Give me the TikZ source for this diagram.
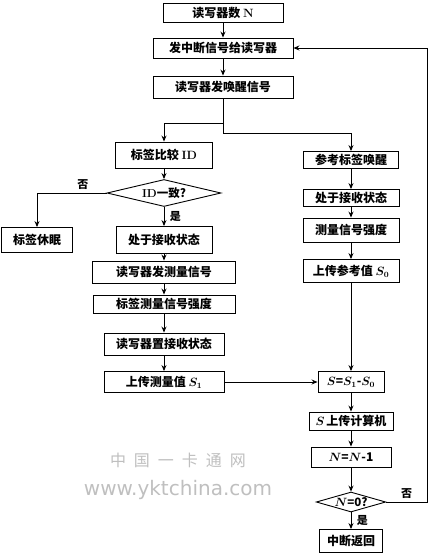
\documentclass[tikz,border=0pt]{standalone}
\usepackage{amsmath}
\usepackage{fontspec}
\usepackage{tikz}
\usetikzlibrary{arrows.meta, positioning, shapes.geometric}
\newfontfamily\cjk{Noto Sans CJK SC}
\newfontfamily\wmfont{DejaVu Sans}
\newcommand{\bs}[1]{\boldsymbol{#1}}

\begin{document}
\begin{tikzpicture}[x=1pt, y=-1pt,
    box/.style={rectangle, draw, line width=0.9pt, inner sep=0pt,
                minimum width=96pt, minimum height=20pt,
                align=center, font=\fontsize{12}{14}\cjk\bfseries},
    dec/.style={diamond, draw, line width=0.9pt, inner sep=0pt, aspect=4,
                font=\fontsize{11.5}{13}\cjk\bfseries},
    lab/.style={font=\fontsize{11}{13}\cjk\bfseries},
    arr/.style={-{Stealth[length=6pt, width=5pt]}, line width=0.9pt}
  ]
    \useasboundingbox (0,0) rectangle (432,558);
    % top column
    \node[box, minimum width=120pt, minimum height=19pt] (cnt)  at (223,13)  {读写器数 \textrm{N}};
    \node[box, minimum width=140pt] (intr) at (223,48)  {发中断信号给读写器};
    \node[box, minimum width=140pt, minimum height=22pt] (wake) at (223,87)  {读写器发唤醒信号};
    \coordinate (sp1) at (223,123);
    \coordinate (sp2) at (223,133);
    % left column
    \node[box, minimum width=97pt, minimum height=26pt] (cmp)   at (164,155) {标签比较 \textrm{ID}};
    \node[dec, minimum width=114pt, minimum height=27pt] (idq)  at (164,193) {\textrm{ID}一致?};
    \node[box, minimum width=71pt, minimum height=25pt] (sleep) at (37,240)  {标签休眠};
    \node[box, minimum width=96pt, minimum height=27pt] (rcvl)  at (164,240) {处于接收状态};
    \node[box, minimum width=143pt, minimum height=22pt] (sendm) at (164,272) {读写器发测量信号};
    \node[box, minimum width=142pt, minimum height=18pt] (tagm)  at (164,304) {标签测量信号强度};
    \node[box, minimum width=120pt, minimum height=22pt] (setr)  at (164,344) {读写器置接收状态};
    \node[box, minimum width=120pt, minimum height=21pt] (upm)   at (164,382) {上传测量值 $\bs{S_1}$};
    % right column
    \node[box, minimum width=95pt, minimum height=17pt] (ref)  at (351,160) {参考标签唤醒};
    \node[box, minimum width=96pt, minimum height=17pt] (rcvr) at (351,198) {处于接收状态};
    \node[box, minimum width=96pt, minimum height=24pt] (meas) at (351,230) {测量信号强度};
    \node[box, minimum width=96pt, minimum height=23pt] (upr)  at (351,271) {上传参考值 $\bs{S_0}$};
    \node[box, minimum width=66pt, minimum height=21pt] (diff) at (351,382) {$\bs{S}$=$\bs{S_1}$-$\bs{S_0}$};
    \node[box, minimum width=84pt, minimum height=18pt] (upc)  at (351,421) {$\bs{S}$\,上传计算机};
    \node[box, minimum width=80pt, minimum height=20pt] (dec)  at (351,457) {$\bs{N}$=$\bs{N}$-1};
    \node[dec, minimum width=69pt, minimum height=20pt] (ndq)  at (351,502) {$\bs{N}$=0?};
    \node[box, minimum width=63pt, minimum height=23pt] (ret)  at (351,541) {中断返回};
    \coordinate (back) at (427,502);
    % watermark
    \node[font=\fontsize{16}{18}\cjk, text=black!25] (wm1) at (178,460) {中\enspace 国\enspace 一\enspace 卡\enspace 通\enspace 网};
    \node[font=\fontsize{20}{22}\wmfont, text=black!25] (wm2) at (178,490) {www.yktchina.com};

    \draw[arr] (cnt) -- (intr);
    \draw[arr] (intr) -- (wake);
    \draw[arr] (wake) -- (sp1) -| (cmp);
    \draw[arr] (sp1) -- (sp2) -| (ref);
    \draw[arr] (cmp) -- (idq);
    \draw[arr] (idq) -| (sleep) node[lab, pos=0.17, above] {否};
    \draw[arr] (idq) -- (rcvl) node[lab, midway, right=2pt] {是};
    \draw[arr] (rcvl) -- (sendm);
    \draw[arr] (sendm) -- (tagm);
    \draw[arr] (tagm) -- (setr);
    \draw[arr] (setr) -- (upm);
    \draw[arr] (upm) -- (diff);
    \draw[arr] (ref) -- (rcvr);
    \draw[arr] (rcvr) -- (meas);
    \draw[arr] (meas) -- (upr);
    \draw[arr] (upr) -- (diff);
    \draw[arr] (diff) -- (upc);
    \draw[arr] (upc) -- (dec);
    \draw[arr] (dec) -- (ndq);
    \draw[arr] (ndq) -- (ret) node[lab, midway, right=2pt] {是};
    \draw[arr] (ndq) -- (back) node[lab, midway, above] {否} |- (intr);
  \end{tikzpicture}
\end{document}
